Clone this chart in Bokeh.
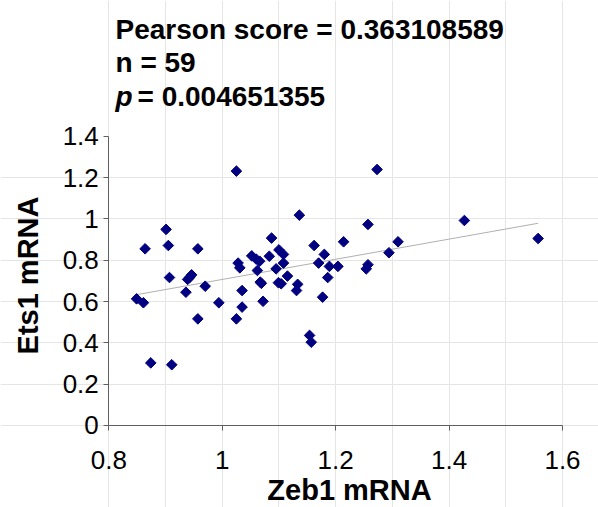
import numpy as np
from bokeh.plotting import figure
from bokeh.models import (Label, FixedTicker, CustomJSTickFormatter, ColumnDataSource,
                          LinearAxis, Range1d)
from bokeh.embed import file_html
from bokeh.resources import INLINE

# Data
zeb1 = [1.025, 1.136, 0.901, 0.905, 0.864, 0.957, 1.087, 1.162, 1.214, 1.180,
        1.170, 1.189, 1.204, 1.186, 1.177, 1.052, 1.060, 1.066, 1.083, 1.100,
        1.108, 1.108, 1.095, 1.115, 1.099, 1.104, 1.133, 1.131, 1.028, 1.031,
        1.062, 1.067, 1.069, 1.035, 1.072, 1.035, 0.994, 0.970, 0.936, 0.939,
        0.946, 0.907, 0.849, 0.861, 0.957, 1.025, 1.154, 1.157, 0.874, 0.911,
        1.273, 1.257, 1.427, 1.557, 1.310, 1.294, 1.257, 1.254, 0.943]
ets1 = [1.231, 1.018, 0.949, 0.871, 0.855, 0.855, 0.907, 0.871, 0.889, 0.828,
        0.786, 0.770, 0.770, 0.716, 0.621, 0.821, 0.805, 0.795, 0.819, 0.850,
        0.828, 0.786, 0.758, 0.723, 0.691, 0.686, 0.683, 0.653, 0.786, 0.763,
        0.750, 0.694, 0.688, 0.653, 0.601, 0.573, 0.594, 0.674, 0.645, 0.707,
        0.729, 0.716, 0.613, 0.594, 0.516, 0.516, 0.436, 0.403, 0.303, 0.294,
        1.239, 0.973, 0.992, 0.905, 0.889, 0.836, 0.778, 0.758, 0.718]

x_ticks = [0.8, 1.0, 1.2, 1.4, 1.6]
y_ticks = [0, 0.2, 0.4, 0.6, 0.8, 1.0, 1.2, 1.4]

title_lines = ["Pearson score = 0.363108589", "n = 59"]
p_label = "p"
p_value_text = " = 0.004651355"
x_label = "Zeb1 mRNA"
y_label = "Ets1 mRNA"

FONT = "Liberation Sans"
AX = "#606060"

# The frame fills the whole canvas; the axes are drawn at fixed data locations
p = figure(width=598, height=507, output_backend="svg", toolbar_location=None,
           x_range=Range1d(0.60903, 1.66348), y_range=Range1d(-0.39683, 2.05670),
           x_axis_location=None, y_axis_location=None,
           min_border_left=0, min_border_right=0, min_border_top=0, min_border_bottom=0)
p.outline_line_color = None
p.background_fill_color = "white"
p.border_fill_color = "white"

fmt = CustomJSTickFormatter(code="return tick.toFixed(1).replace(/\\.0$/, '');")

xax = LinearAxis(fixed_location=0, bounds=(x_ticks[0], x_ticks[-1]),
                 ticker=FixedTicker(ticks=x_ticks), formatter=fmt)
yax = LinearAxis(fixed_location=x_ticks[0], bounds=(y_ticks[0], y_ticks[-1]),
                 ticker=FixedTicker(ticks=y_ticks), formatter=fmt)
for ax in (xax, yax):
    ax.minor_tick_line_color = None
    ax.major_tick_in = 0
    ax.major_tick_out = 5
    ax.axis_line_color = AX
    ax.major_tick_line_color = AX
    ax.major_label_text_font = FONT
    ax.major_label_text_font_size = "26px"
    ax.major_label_text_color = "black"
xax.major_label_standoff = 21
yax.major_label_standoff = 5
p.add_layout(xax, "below")
p.add_layout(yax, "left")

# Trendline (least squares from data)
xs = np.array(zeb1)
ys = np.array(ets1)
slope, intercept = np.polyfit(xs, ys, 1)
tx = [xs.min(), xs.max()]
ty = [slope * v + intercept for v in tx]
p.line(tx, ty, line_color="#b0b0b0", line_width=1)

src = ColumnDataSource(dict(x=zeb1, y=ets1))
p.scatter("x", "y", source=src, marker="square", angle=np.pi / 4, size=7.5,
          fill_color="#000080", line_color="#000080")

def lab(**kw):
    base = dict(x_units="screen", y_units="screen", text_font=FONT,
                text_font_size="28px", text_font_style="bold", text_color="black",
                text_baseline="middle", text_align="left")
    base.update(kw)
    p.add_layout(Label(**base))

# Title lines
for txt, yc in zip(title_lines, [478, 445]):
    lab(x=115, y=yc, text=txt)
lab(x=115, y=411, text=p_label, text_font_style="bold italic")
lab(x=137, y=411, text=p_value_text)

# Axis titles
lab(x=349, y=18, text=x_label, text_align="center", text_font_size="29px")
lab(x=27, y=232, text=y_label, angle=np.pi / 2, text_align="center", text_font_size="29px")

open("out.html", "w").write(file_html(p, INLINE))
